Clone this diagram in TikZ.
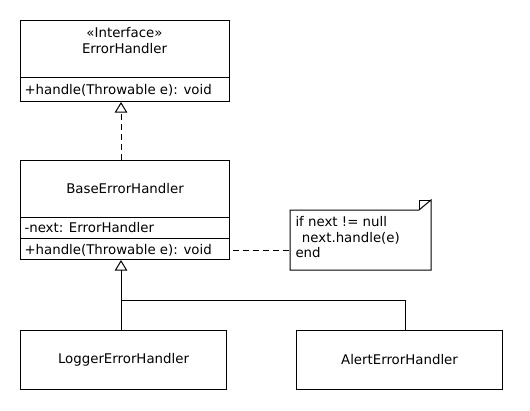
\documentclass[tikz,border=0pt]{standalone}
\usepackage{fontspec}
\setmainfont{DejaVu Sans}
\usetikzlibrary{arrows.meta}

\tikzset{every picture/.style={line width=0.75pt}}
\tikzset{
  umlbox/.style={draw, rectangle, inner sep=0pt, anchor=north west, minimum width=156.75pt},
  compart/.style={rectangle, inner sep=0pt, anchor=north west, minimum width=156.75pt},
  member/.style={anchor=west, inner sep=0pt, font=\fontsize{10}{12}\selectfont},
  classname/.style={inner sep=0pt, align=center, font=\fontsize{10}{12}\selectfont},
  realize/.style={dash pattern={on 4.5pt off 3pt}, -{Triangle[open, length=8pt, width=9.5pt]}},
  inherit/.style={-{Triangle[open, length=8pt, width=9.5pt]}},
  notelink/.style={dash pattern={on 4.5pt off 3pt}},
}

\begin{document}
\begin{tikzpicture}[x=0.75pt,y=0.75pt,yscale=-1,xscale=1]
\useasboundingbox (0,0) rectangle (530,410);
% ErrorHandler (interface)
\node[umlbox, minimum height=60.75pt] (iface) at (20,20) {};
\node[compart, minimum height=42pt] (ifacehead) at (iface.north west) {};
\node[compart, minimum height=18.75pt] (ifaceops) at (ifacehead.south west) {};
\draw (ifaceops.north west) -- (ifaceops.north east);
\node[classname] (ifacename) at (124.5,41) {«Interface»\\ErrorHandler};
\node[member] (ifacehandle) at ([xshift=3pt]ifaceops.west) {+handle(Throwable e): void};
% BaseErrorHandler
\node[umlbox, minimum height=74.25pt] (base) at (20,160) {};
\node[compart, minimum height=42pt] (basehead) at (base.north west) {};
\node[compart, minimum height=15pt] (basefields) at (basehead.south west) {};
\node[compart, minimum height=17.25pt] (baseops) at (basefields.south west) {};
\draw (basefields.north west) -- (basefields.north east);
\draw (baseops.north west) -- (baseops.north east);
\node[classname] (basename) at (basehead.center) {BaseErrorHandler};
\node[member] (basenext) at ([xshift=3pt]basefields.west) {-next: ErrorHandler};
\node[member] (basehandle) at ([xshift=3pt]baseops.west) {+handle(Throwable e): void};
% note
\node[inner sep=0pt, minimum width=105pt, minimum height=44.25pt, anchor=north west] (note) at (290,210) {};
\node[member, anchor=north west, align=left, font=\fontsize{10}{11.6}\selectfont] (notetext) at (295,216)
  {if next != null\\\ \,next.handle(e)\\end};
\draw (note.north west) -- ([xshift=-9pt]note.north east) -- ([yshift=-7.5pt]note.north east)
  -- (note.south east) -- (note.south west) -- cycle;
\draw ([xshift=-9pt]note.north east) |- ([yshift=-7.5pt]note.north east);
% subclasses
\node[umlbox, minimum width=154.5pt, minimum height=44.25pt] (logger) at (20,330) {};
\node[classname] (loggername) at (logger.center) {LoggerErrorHandler};
\node[umlbox, minimum width=154.5pt, minimum height=44.25pt] (alert) at (296,330) {};
\node[classname] (alertname) at (alert.center) {AlertErrorHandler};
% connectors
\coordinate (trunk) at (121,300);
\coordinate (alerttap) at (405,330);
\draw[realize] (base.north -| trunk) -- (iface.south -| trunk);
\draw[inherit] (logger.north -| trunk) -- (base.south -| trunk);
\draw (alerttap) |- (trunk);
\draw[notelink] ([xshift=2pt]baseops.east) -- (note.west |- baseops.east);
\end{tikzpicture}
\end{document}
